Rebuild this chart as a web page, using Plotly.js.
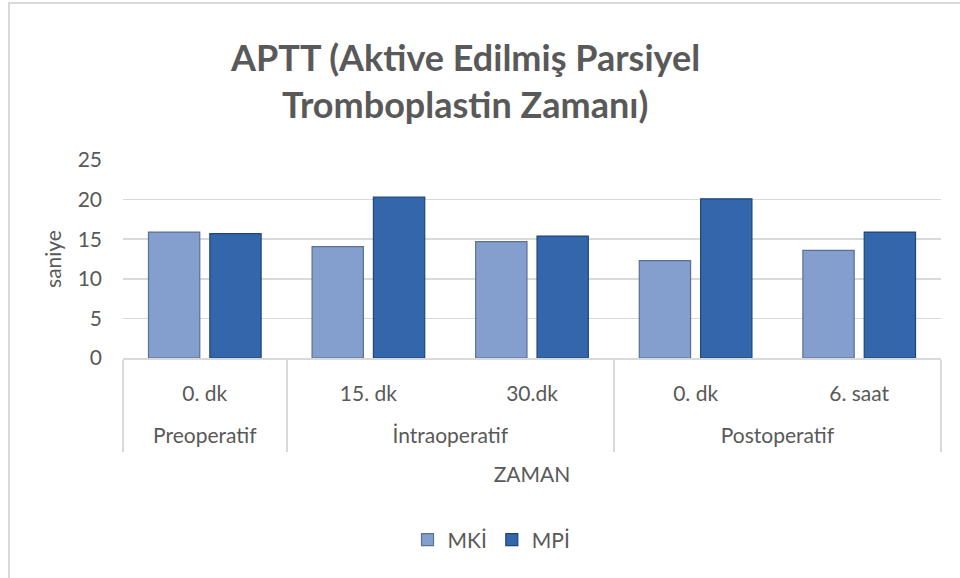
<!DOCTYPE html>
<html>
<head>
<meta charset="utf-8">
<script src="https://cdn.plot.ly/plotly-3.0.1.min.js"></script>
<style>
html,body{margin:0;padding:0;background:#fff;}
#frame{position:absolute;left:8px;top:2px;width:980px;height:600px;border-left:2px solid #d9d9d9;border-top:2px solid #d9d9d9;box-sizing:border-box;pointer-events:none;}
#chart{width:960px;height:578px;}
</style>
</head>
<body>
<div id="chart"></div>
<div id="frame"></div>
<script>
const groups = ["Preoperatif", "İntraoperatif", "İntraoperatif", "Postoperatif", "Postoperatif"];
const times = ["0. dk", "15. dk", "30.dk", "0. dk", "6. saat"];
const seriesNames = ["MKİ", "MPİ"];
const mkiValues = [15.9, 14.05, 14.7, 12.3, 13.6];
const mpiValues = [15.7, 20.3, 15.4, 20.1, 15.9];
const yTicks = [0, 5, 10, 15, 20, 25];

// category positions derived from the arrays
const xIdx = times.map((_, i) => i);
const groupNames = [];
const groupCenters = [];
const boundaries = [-0.5];
groups.forEach((g, i) => {
  if (i === 0 || g !== groups[i - 1]) {
    if (i > 0) boundaries.push(i - 0.5);
    groupNames.push(g);
    const members = xIdx.filter(j => groups[j] === g);
    groupCenters.push(members.reduce((a, b) => a + b, 0) / members.length);
  }
});
boundaries.push(times.length - 0.5);
const xRange = [-0.5, times.length - 0.5];

const FONT = "Lato, 'Open Sans', sans-serif";
const GREY = "#595959";
const LINE = "#d9d9d9";

const traces = [
  {
    type: "bar", name: seriesNames[0], x: xIdx, y: mkiValues,
    marker: {color: "#849fce", line: {color: "#5a6f94", width: 1.2}},
    hoverinfo: "y"
  },
  {
    type: "bar", name: seriesNames[1], x: xIdx, y: mpiValues,
    marker: {color: "#3366aa", line: {color: "#1e4677", width: 1.2}},
    hoverinfo: "y"
  },
  // helper (invisible) traces so the group-label axis and divider axis are drawn
  {type: "scatter", mode: "none", x: groupCenters, y: groupCenters.map(() => null), xaxis: "x2", yaxis: "y",
   showlegend: false, hoverinfo: "skip"},
  {type: "scatter", mode: "none", x: boundaries, y: boundaries.map(() => null), xaxis: "x3", yaxis: "y",
   showlegend: false, hoverinfo: "skip"}
];

const layout = {
  width: 960, height: 578,
  paper_bgcolor: "#fff", plot_bgcolor: "#fff",
  font: {family: FONT, color: GREY},
  margin: {l: 123, r: 19, t: 160, b: 220},
  barmode: "group", bargap: 0.25, bargroupgap: 0.164,
  showlegend: true,
  legend: {orientation: "h", xref: "container", yref: "container", x: 0.512, y: 1 - 540/578, xanchor: "center", yanchor: "middle",
           font: {size: 21, color: GREY}, itemwidth: 30, traceorder: "normal"},
  xaxis: {
    type: "linear", range: xRange, tickvals: xIdx, ticktext: times,
    showgrid: false, zeroline: false, showline: false, ticks: "",
    tickfont: {size: 21, color: GREY}, ticklabelstandoff: 21
  },
  xaxis2: {
    type: "linear", overlaying: "x", anchor: "y", side: "bottom", range: xRange,
    tickvals: groupCenters, ticktext: groupNames,
    showgrid: false, zeroline: false, showline: false, ticks: "",
    tickfont: {size: 21, color: GREY}, ticklabelstandoff: 63,
    title: {text: "ZAMAN", font: {size: 21, color: GREY}, standoff: 21}
  },
  xaxis3: {
    type: "linear", overlaying: "x", anchor: "y", side: "bottom", range: xRange,
    tickvals: boundaries, showticklabels: false,
    showgrid: false, zeroline: false,
    showline: true, linecolor: LINE, linewidth: 2,
    ticks: "outside", ticklen: 92, tickwidth: 2, tickcolor: LINE
  },
  yaxis: {
    range: [0, 25], tickvals: yTicks, ticktext: yTicks.map(String),
    showgrid: true, gridcolor: LINE, gridwidth: 1.5,
    zeroline: false, showline: false,
    tickfont: {size: 21, color: GREY},
    ticklabelstandoff: 20,
    title: {text: "saniye", font: {size: 21, color: GREY}, standoff: 10}
  },
  annotations: [
    {text: "<b>APTT (Aktive Edilmiş Parsiyel</b>", xref: "paper", yref: "paper", x: (465-123)/818, y: 1 + (160-57)/198, showarrow: false,
     font: {size: 36, color: GREY, family: FONT}, xanchor: "center", yanchor: "middle"},
    {text: "<b>Tromboplastin Zamanı)</b>", xref: "paper", yref: "paper", x: (465-123)/818, y: 1 + (160-104)/198, showarrow: false,
     font: {size: 36, color: GREY, family: FONT}, xanchor: "center", yanchor: "middle"}
  ]
};

Plotly.newPlot("chart", traces, layout, {displayModeBar: false, staticPlot: true});
</script>
</body>
</html>
